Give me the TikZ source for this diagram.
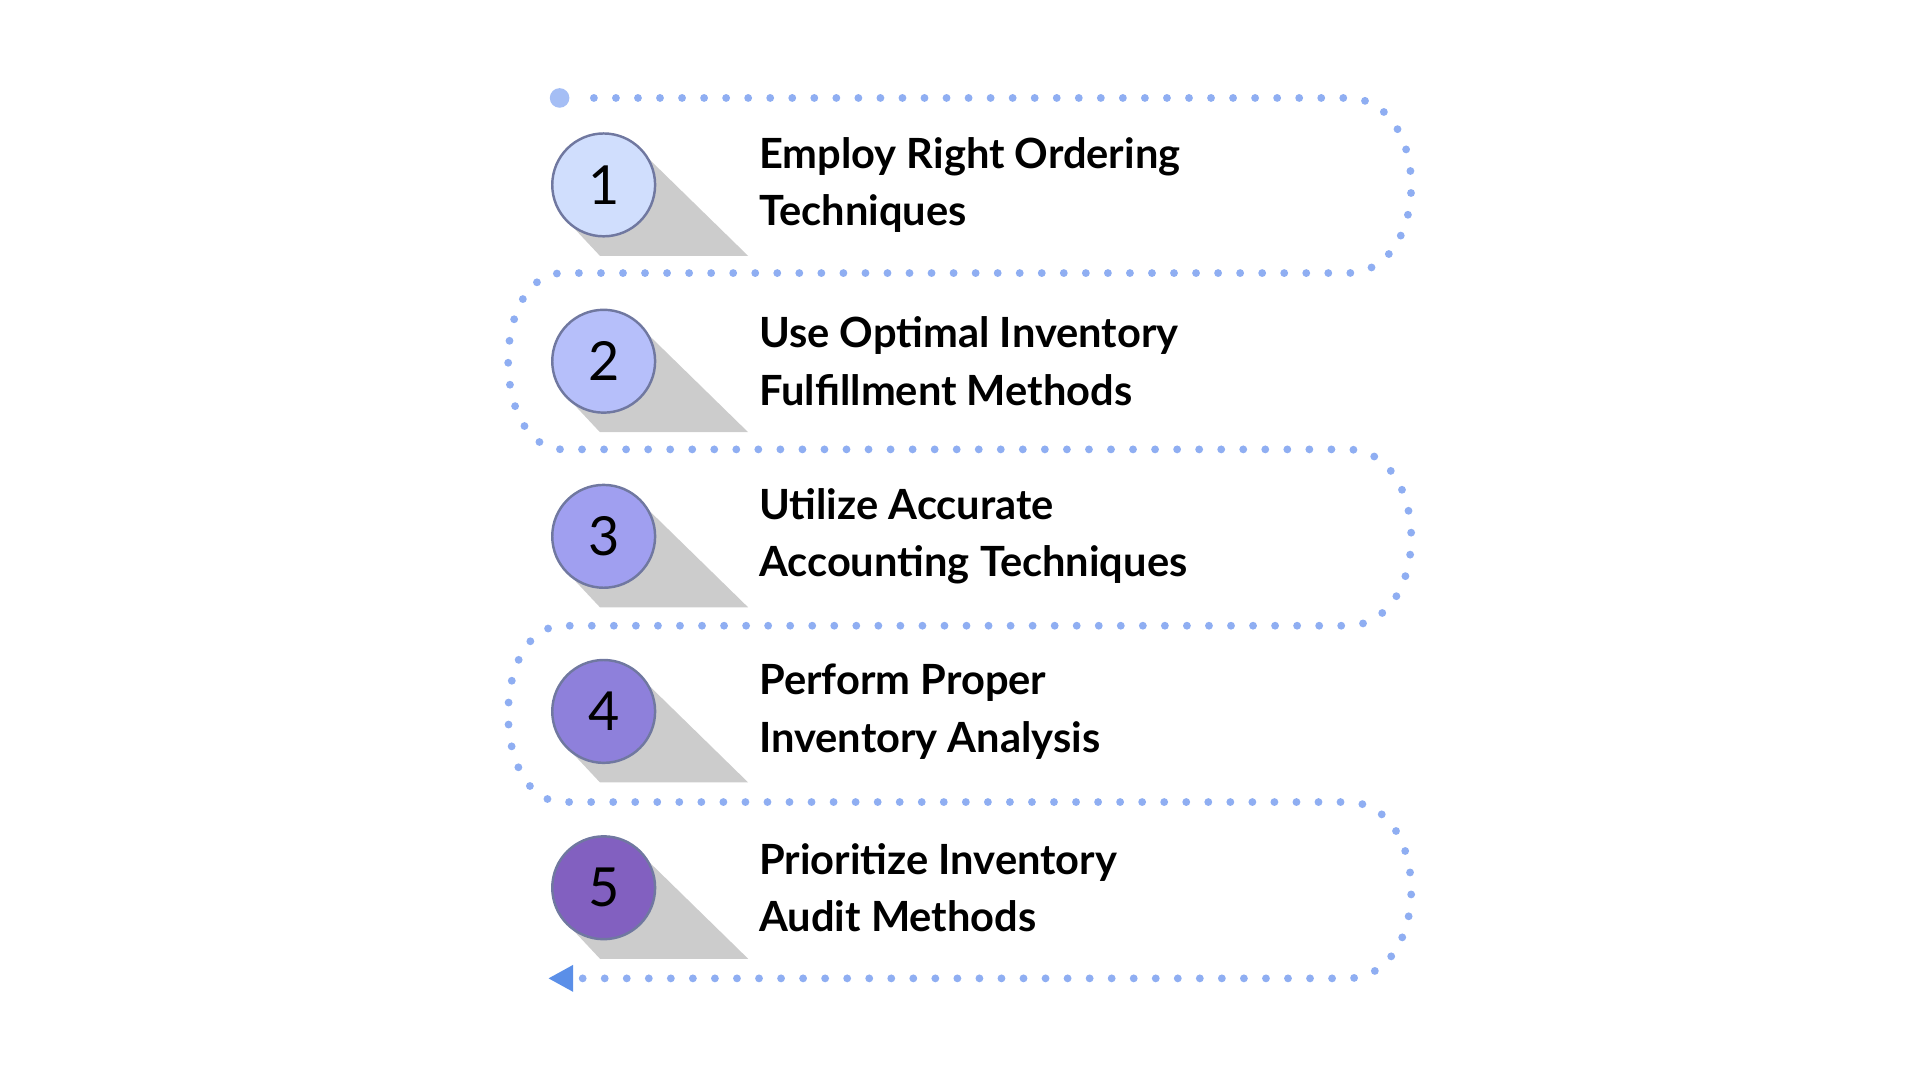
\documentclass[tikz,border=0pt]{standalone}
\usepackage{fontspec}
\setmainfont{Lato}
\begin{document}
\begin{tikzpicture}[x=0.5pt,y=-0.5pt,
  dotpath/.style={draw=dotc,line width=3.2pt,line cap=round,dash pattern=on 0pt off 9pt},
  numc/.style={circle,minimum size=42pt,draw=rimc,line width=1pt,inner sep=0pt,font=\fontsize{22}{24}\selectfont},
  lbl/.style={anchor=west,align=left,font=\bfseries\fontsize{17}{23.5}\selectfont,text=black}]
\definecolor{dotc}{HTML}{8FAEF2}
\definecolor{rimc}{HTML}{7078A0}
\definecolor{shad}{HTML}{CCCCCC}
\definecolor{ca}{HTML}{D0DEFD}
\definecolor{cb}{HTML}{B6BFFA}
\definecolor{cc}{HTML}{A09FF0}
\definecolor{cd}{HTML}{8E80DB}
\definecolor{ce}{HTML}{8260C0}
\definecolor{arr}{HTML}{5B8FE8}
\useasboundingbox (0,0) rectangle (1568,882);
\coordinate (s) at (457,80);
\coordinate (e) at (470,799);
\draw[dotpath] (485,80) -- (1100,80)
  .. controls (1170,80) and (1170,223) .. (1100,223) -- (460,223)
  .. controls (400,223) and (400,367) .. (460,367) -- (1100,367)
  .. controls (1170,367) and (1170,511) .. (1100,511) -- (460,511)
  .. controls (400,511) and (400,655) .. (460,655) -- (1100,655)
  .. controls (1170,655) and (1170,799) .. (1100,799) -- (e);
\fill[dotc!80!white] (s) circle[radius=8];
\fill[arr] (448,799) -- (468,788) -- (468,810) -- cycle;
\foreach \i/\y/\c/\t in {1/151/ca/{Employ Right Ordering\\Techniques},
  2/295/cb/{Use Optimal Inventory\\Fulfillment Methods},
  3/438/cc/{Utilize Accurate\\Accounting Techniques},
  4/581/cd/{Perform Proper\\Inventory Analysis},
  5/725/ce/{Prioritize Inventory\\Audit Methods}}{
  \fill[shad] (523,\y-28) -- (611,\y+58) -- (490,\y+58) -- (460,\y+26) -- cycle;
  \node[numc,fill=\c] (n\i) at (493,\y) {\i};
  \node[lbl] (t\i) at (613,\y) {\t};
}
\end{tikzpicture}
\end{document}
